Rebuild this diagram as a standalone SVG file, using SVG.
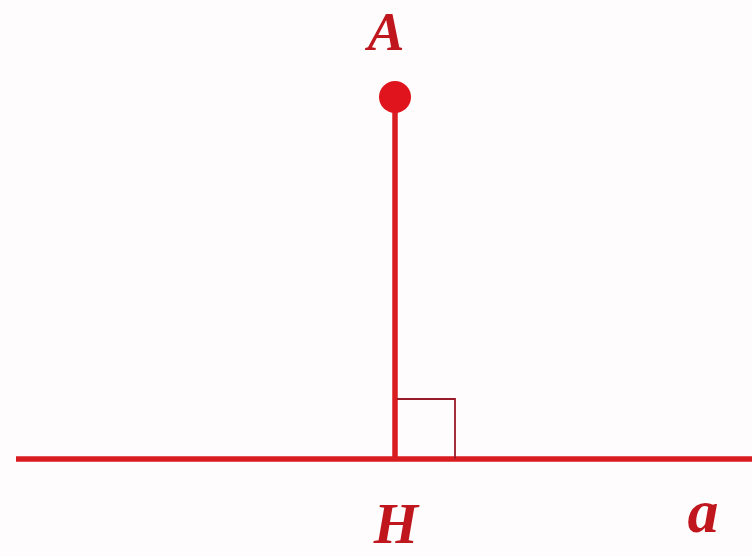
<svg xmlns="http://www.w3.org/2000/svg" width="752" height="556" viewBox="0 0 752 556">
<style>
.ln{stroke:#d81c20;stroke-width:5.5;fill:none}
.lbl{font-family:"Liberation Serif","DejaVu Serif",serif;font-style:italic;font-weight:bold;fill:#c0161e;text-anchor:middle}
</style>
<rect width="752" height="556" fill="#fefcfc"/>
<g id="connectors">
<line class="ln" x1="16" y1="459" x2="752" y2="459"/>
<line class="ln" x1="395" y1="97" x2="395" y2="459"/>
<polyline points="397,399 455,399 455,459" fill="none" stroke="#9a1a28" stroke-width="1.8"/>
</g>
<g id="A">
<circle cx="395" cy="97" r="16" fill="#e0141c"/>
<text class="lbl" x="386" y="50" font-size="55">A</text>
</g>
<g id="H">
<text class="lbl" x="396" y="543" font-size="57">H</text>
</g>
<g id="a">
<text class="lbl" x="703" y="532" font-size="62">a</text>
</g>
</svg>
